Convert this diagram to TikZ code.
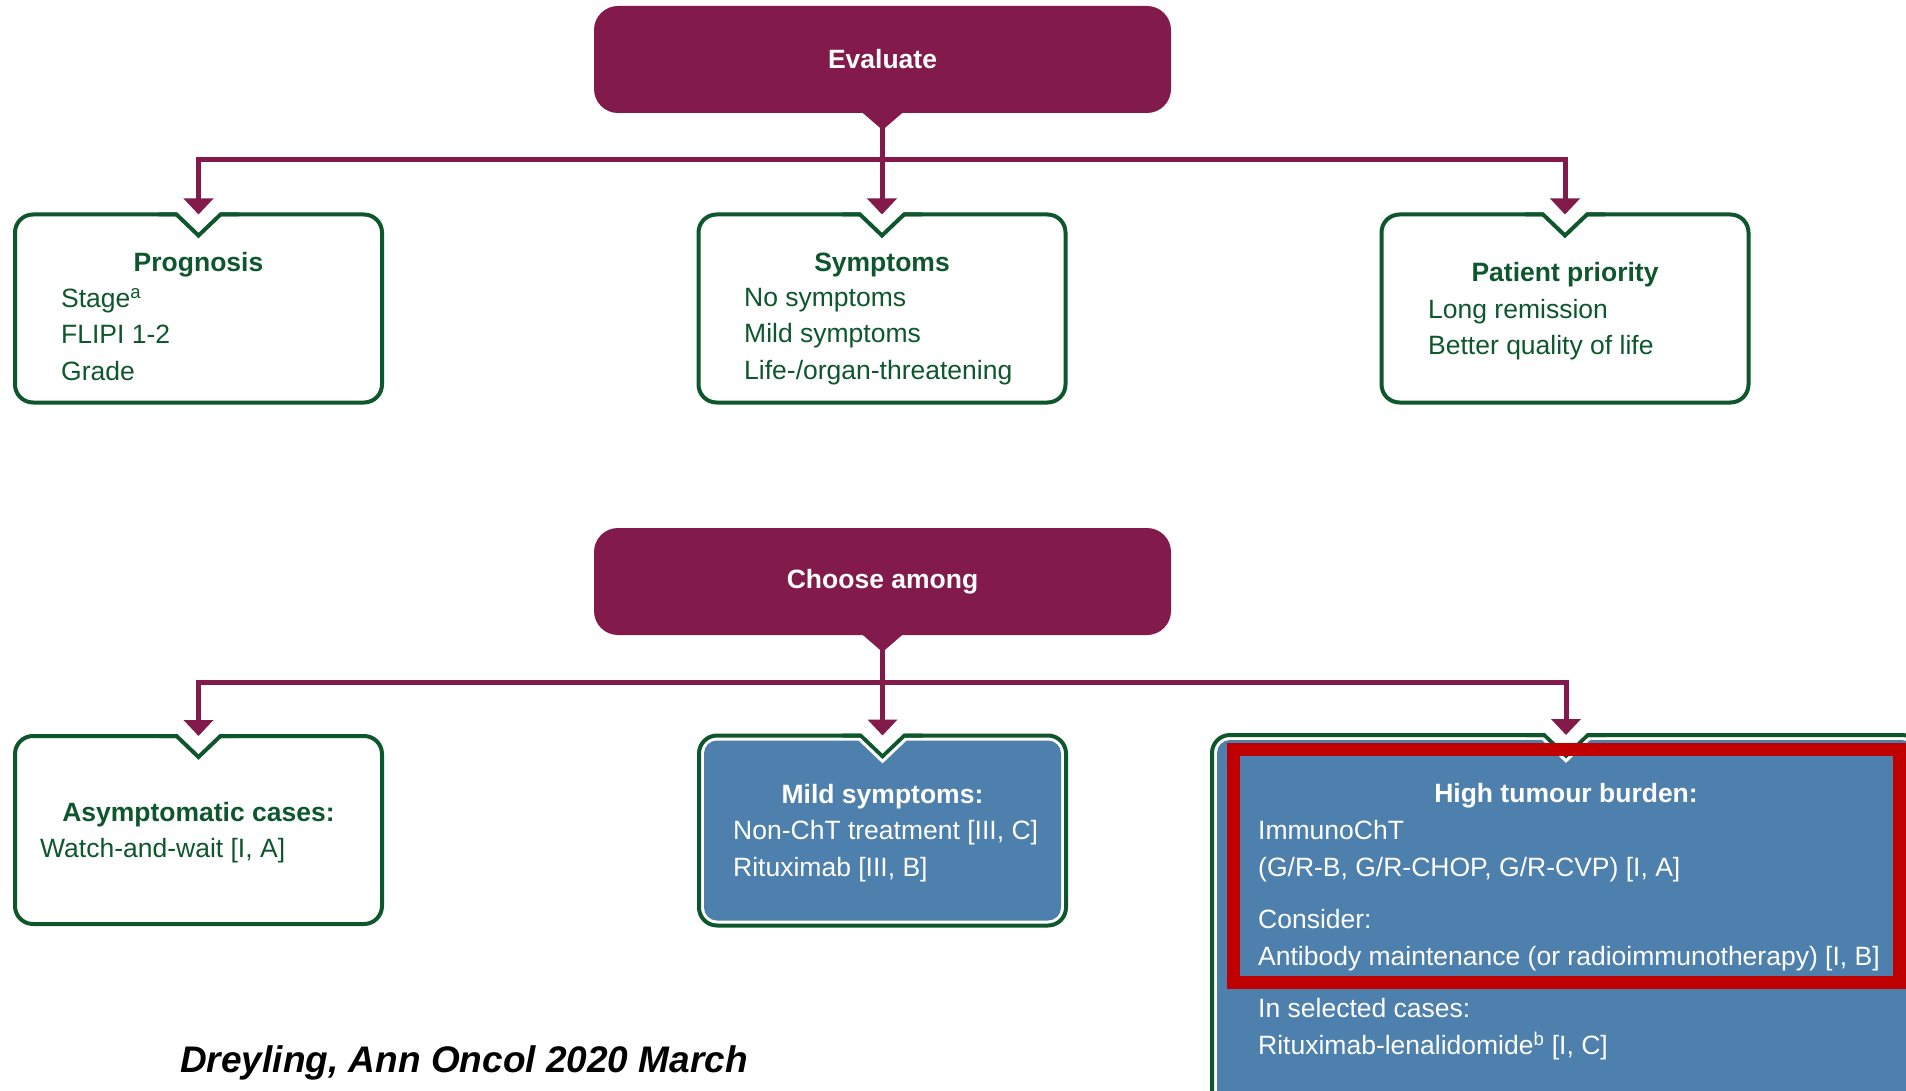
\documentclass[tikz,border=0pt]{standalone}
\usepackage{fontspec}
\setmainfont{Liberation Sans}
\usetikzlibrary{arrows.meta,calc}

\definecolor{evalred}{RGB}{130,26,76}
\definecolor{boxgreen}{RGB}{14,87,45}
\definecolor{boxblue}{RGB}{78,128,174}
\definecolor{markred}{RGB}{192,0,0}

\begin{document}
\begin{tikzpicture}
  [x=1pt,y=-1pt,
   evalbox/.style={rectangle,rounded corners=24pt,fill=evalred,text=white,
     font=\bfseries\fontsize{26.5}{32}\selectfont,minimum width=577pt,minimum height=107pt,outer sep=0pt},
   card/.style={rectangle,rounded corners=18pt,draw=boxgreen,line width=4pt,fill=white,
     minimum width=367pt,minimum height=188pt,outer sep=0pt},
   cardtitle/.style={text=boxgreen,font=\bfseries\fontsize{26.5}{36.5}\selectfont,inner sep=0pt,anchor=base},
   cardtext/.style={text=boxgreen,font=\fontsize{26.5}{36.5}\selectfont,align=left,inner sep=0pt,anchor=north west},
   link/.style={draw=evalred,line width=5pt,-{Triangle[width=29pt,length=16pt]}}]
  \useasboundingbox (0,0) rectangle (1906,1091);
  \clip (0,0) rectangle (1906,1091);
  \fill[white] (0,0) rectangle (1906,1091);

  \node[evalbox] (eval) at (882.5,59.5) {Evaluate};
  \node[evalbox] (choose) at (882.5,581.5) {Choose among};
  \foreach \n in {eval,choose}
    \fill[evalred] ($(\n.south)+(-22,-2)$) -- ($(\n.south)+(0,17)$) -- ($(\n.south)+(22,-2)$) -- cycle;

  \node[card] (prog) at (198.5,308.5) {};
  \node[card] (symp) at (882,308.5) {};
  \node[card] (prio) at (1565,308.5) {};
  \node[card] (asym) at (198.5,830) {};
  \node[card,minimum height=190pt] (mild) at (882.5,830.5) {};
  \node[card,minimum width=708pt,minimum height=395pt] (high) at (1566,932.5) {};
  \foreach \n in {mild,high}
    \fill[boxblue,rounded corners=13pt] ($(\n.north west)+(5,5)$) rectangle ($(\n.south east)+(-5,-5)$);
  \foreach \n in {prog,symp,prio,asym,mild,high} {
    \fill[white] ($(\n.north)+(-22,-3)$) -- ($(\n.north)+(22,-3)$) -- ($(\n.north)+(22,0)$)
      -- ($(\n.north)+(0,21)$) -- ($(\n.north)+(-22,0)$) -- cycle;
    \draw[boxgreen,line width=4pt] ($(\n.north)+(-40,0)$) -- ($(\n.north)+(-22,0)$)
      -- ($(\n.north)+(0,21)$) -- ($(\n.north)+(22,0)$) -- ($(\n.north)+(40,0)$);
  }
  \foreach \n in {mild,high}
    \draw[white,line width=3pt] ($(\n.north)+(-23.4,3.5)$) -- ($(\n.north)+(0,25.8)$) -- ($(\n.north)+(23.4,3.5)$);

  \node[cardtitle] (progt) at (198.5,272) {Prognosis};
  \node[cardtext] (progx) at (61,288) {Stage\textsuperscript{a}\\FLIPI 1-2\\Grade};
  \node[cardtitle] (sympt) at (882,272) {Symptoms};
  \node[cardtext] (sympx) at (744,288) {No symptoms\\Mild symptoms\\Life-/organ-threatening};
  \node[cardtitle] (priot) at (1565,282) {Patient priority};
  \node[cardtext] (priox) at (1428,299) {Long remission\\Better quality of life};

  \node[cardtitle] (asymt) at (198.5,821.5) {Asymptomatic cases:};
  \node[cardtext] (asymx) at (40,838.5) {Watch-and-wait [I, A]};
  \node[cardtitle,text=white] (mildt) at (882.5,803.3) {Mild symptoms:};
  \node[cardtext,text=white] (mildx) at (733,820.3) {Non-ChT treatment [III, C]\\Rituximab [III, B]};
  \node[cardtitle,text=white] (hight) at (1566,802) {High tumour burden:};
  \node[cardtext,text=white] (highx) at (1258,820.3)
    {ImmunoChT\\(G/R-B, G/R-CHOP, G/R-CVP) [I, A]\\[16pt]Consider:\\Antibody maintenance (or radioimmunotherapy) [I, B]\\[16pt]In selected cases:\\Rituximab-lenalidomide\textsuperscript{b} [I, C]};

  \foreach \dest in {prog,symp,prio}
    \draw[link] (eval.south) -- ++(0,47) -| (\dest.north);
  \foreach \dest in {asym,mild,high}
    \draw[link] (choose.south) -- ++(0,47) -| (\dest.north);

  \draw[markred,line width=13pt] (1233,749) rectangle (1899,982);

  \node[font=\bfseries\itshape\fontsize{37}{44}\selectfont,anchor=base,inner sep=0pt] (cite) at (464,1072)
    {Dreyling, Ann Oncol 2020 March};
\end{tikzpicture}
\end{document}
